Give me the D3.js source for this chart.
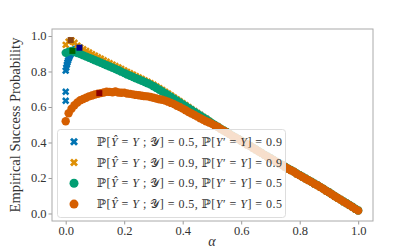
<!DOCTYPE html>
<html>
<head>
<meta charset="utf-8">
<script src="https://cdn.jsdelivr.net/npm/d3@7"></script>
<style>
  body { margin: 0; background: #fff; }
  svg text { font-family: "Liberation Serif", "DejaVu Serif", serif; }
</style>
</head>
<body>
<div id="chart"></div>
<script>
// siatka alpha (wspolna dla 3 serii)
const alpha = [0.00,0.01,0.02,0.03,0.04,0.05,0.06,0.07,0.08,0.09,
  0.10,0.11,0.12,0.13,0.14,0.15,0.16,0.17,0.18,0.19,
  0.20,0.21,0.22,0.23,0.24,0.25,0.26,0.27,0.28,0.29,
  0.30,0.31,0.32,0.33,0.34,0.35,0.36,0.37,0.38,0.39,
  0.40,0.41,0.42,0.43,0.44,0.45,0.46,0.47,0.48,0.49,
  0.50,0.51,0.52,0.53,0.54,0.55,0.56,0.57,0.58,0.59,
  0.60,0.61,0.62,0.63,0.64,0.65,0.66,0.67,0.68,0.69,
  0.70,0.71,0.72,0.73,0.74,0.75,0.76,0.77,0.78,0.79,
  0.80,0.81,0.82,0.83,0.84,0.85,0.86,0.87,0.88,0.89,
  0.90,0.91,0.92,0.93,0.94,0.95,0.96,0.97,0.98,0.99,1.00];

// P[Yhat=Y]=0.5, P[Y'=Y]=0.9 (niebieska, gesciej przy zerze)
const blueAlpha = [0,0,0,0.002,0.004,0.006,0.008,0.010,0.012,0.014,0.016,0.018,0.020,0.025,0.030,0.035,0.040,0.047,
  0.06,0.08,0.10,0.12,0.14,0.16,0.18,0.20,0.22,0.24,0.26,0.28,0.30,0.32,0.34,0.36,0.38,0.40,0.42,0.44,0.46,0.48,
  0.50,0.55,0.60,0.65,0.70,0.75,0.80,0.85,0.90,0.95,1.00];
const blueVal = [0.635,0.686,0.805,0.822,0.838,0.851,0.862,0.872,0.881,0.889,0.896,0.902,0.908,0.916,0.922,0.927,0.930,0.934,
  0.905,0.888,0.873,0.858,0.843,0.829,0.815,0.800,0.784,0.768,0.752,0.737,0.721,0.701,0.681,0.661,0.640,0.618,0.597,0.576,0.555,0.534,
  0.507,0.459,0.410,0.361,0.311,0.263,0.216,0.169,0.120,0.068,0.017];

// P[Yhat=Y]=0.9, P[Y'=Y]=0.9
const orangeVal = [0.950,0.968,0.975,0.962,0.946,0.934,0.925,0.916,0.907,0.898,
  0.889,0.880,0.872,0.863,0.855,0.847,0.839,0.831,0.823,0.815,
  0.806,0.798,0.790,0.782,0.774,0.766,0.758,0.750,0.742,0.734,
  0.725,0.716,0.706,0.696,0.686,0.676,0.665,0.654,0.643,0.632,
  0.621,0.610,0.599,0.588,0.577,0.566,0.555,0.544,0.533,0.522,
  0.508,0.497,0.490,0.478,0.470,0.457,0.450,0.439,0.426,0.421,
  0.407,0.400,0.386,0.382,0.371,0.358,0.351,0.338,0.331,0.318,
  0.312,0.299,0.293,0.279,0.275,0.260,0.255,0.242,0.237,0.222,
  0.217,0.204,0.199,0.185,0.180,0.166,0.161,0.147,0.141,0.126,
  0.121,0.106,0.099,0.085,0.079,0.065,0.059,0.045,0.039,0.024,0.018];

// P[Yhat=Y]=0.9, P[Y'=Y]=0.5
const greenVal = [0.905,0.912,0.916,0.910,0.904,0.898,0.891,0.884,0.877,0.870,
  0.863,0.856,0.849,0.842,0.835,0.828,0.821,0.814,0.807,0.799,
  0.791,0.783,0.776,0.769,0.762,0.755,0.748,0.741,0.734,0.726,
  0.717,0.707,0.697,0.687,0.677,0.667,0.657,0.646,0.636,0.625,
  0.614,0.604,0.593,0.583,0.572,0.562,0.551,0.541,0.530,0.520,
  0.509,0.499,0.489,0.478,0.468,0.459,0.448,0.438,0.429,0.420,
  0.410,0.399,0.390,0.381,0.370,0.361,0.350,0.341,0.330,0.321,
  0.311,0.302,0.292,0.282,0.274,0.263,0.253,0.245,0.236,0.225,
  0.216,0.207,0.197,0.188,0.179,0.169,0.160,0.150,0.140,0.129,
  0.120,0.109,0.098,0.088,0.078,0.068,0.058,0.048,0.038,0.027,0.017];

// P[Yhat=Y]=0.5, P[Y'=Y]=0.5
const vermVal = [0.520,0.565,0.590,0.610,0.625,0.638,0.645,0.652,0.660,0.665,
  0.670,0.675,0.678,0.682,0.686,0.685,0.683,0.687,0.682,0.680,
  0.681,0.676,0.674,0.671,0.668,0.666,0.663,0.661,0.660,0.656,
  0.652,0.648,0.644,0.641,0.636,0.630,0.623,0.616,0.607,0.600,
  0.591,0.582,0.572,0.563,0.555,0.546,0.537,0.528,0.520,0.513,
  0.505,0.496,0.487,0.476,0.467,0.458,0.447,0.437,0.428,0.419,
  0.409,0.398,0.389,0.380,0.369,0.360,0.349,0.340,0.329,0.320,
  0.310,0.301,0.291,0.281,0.273,0.262,0.252,0.244,0.235,0.224,
  0.215,0.206,0.196,0.187,0.178,0.168,0.159,0.149,0.139,0.128,
  0.119,0.108,0.097,0.087,0.077,0.067,0.057,0.047,0.037,0.026,0.016];

// legenda: P[Yhat=Y;Y] i P[Y'=Y]
const legendP1 = [0.5, 0.9, 0.9, 0.5];
const legendP2 = [0.9, 0.9, 0.5, 0.5];
const colors = ["#0173b2", "#de8f05", "#029e73", "#d55e00"];
const markers = ["x", "x", "o", "o"];

// kwadraty - maksima
const peakAlpha = [0.047, 0.017, 0.023, 0.115];
const peakVal = [0.934, 0.977, 0.916, 0.678];
const peakColors = ["#00008b", "#8b4513", "#006400", "#8b0000"];

const xTicks = [0.0, 0.2, 0.4, 0.6, 0.8, 1.0];
const yTicks = [0.0, 0.2, 0.4, 0.6, 0.8, 1.0];

const width = 415, height = 249;
const margin = {left: 52, right: 42, top: 29, bottom: 28};
const serif = "'Liberation Serif', 'DejaVu Serif', serif";

const svg = d3.select("#chart").append("svg")
  .attr("width", width)
  .attr("height", height)
  .attr("font-family", serif);

const x = d3.scaleLinear().domain([-0.0468, 1.0506]).range([margin.left, width - margin.right]);
const y = d3.scaleLinear().domain([-0.0423, 1.0394]).range([height - margin.bottom, margin.top]);

const series = [
  {a: blueAlpha, v: blueVal},
  {a: alpha, v: orangeVal},
  {a: alpha, v: greenVal},
  {a: alpha, v: vermVal}
];

const crossPath = d3.symbol(d3.symbolCross, 34)();

// punkty - kazda seria osobno, kolejnosc jak w legendzie
series.forEach((s, i) => {
  const pts = s.a.map((a, j) => [a, s.v[j]]);
  const g = svg.append("g").attr("fill", colors[i]);
  if (markers[i] === "o") {
    g.selectAll("circle").data(pts).join("circle")
      .attr("cx", d => x(d[0]))
      .attr("cy", d => y(d[1]))
      .attr("r", 4.2);
  } else {
    g.selectAll("path").data(pts).join("path")
      .attr("d", crossPath)
      .attr("transform", d => `translate(${x(d[0])},${y(d[1])}) rotate(45)`);
  }
});

// kwadraty maksimow
svg.append("g").selectAll("rect")
  .data(peakAlpha.map((a, i) => ({a, v: peakVal[i], c: peakColors[i]})))
  .join("rect")
  .attr("x", d => x(d.a) - 3)
  .attr("y", d => y(d.v) - 3)
  .attr("width", 6)
  .attr("height", 6)
  .attr("fill", d => d.c);

// osie
const xAxis = svg.append("g")
  .attr("transform", `translate(0,${height - margin.bottom})`)
  .call(d3.axisBottom(x).tickValues(xTicks).tickFormat(d3.format(".1f")).tickSize(3.5).tickPadding(2));
const yAxis = svg.append("g")
  .attr("transform", `translate(${margin.left},0)`)
  .call(d3.axisLeft(y).tickValues(yTicks).tickFormat(d3.format(".1f")).tickSize(3.5).tickPadding(2));
[xAxis, yAxis].forEach(ax => {
  ax.attr("font-family", null).attr("font-size", null);
  ax.select(".domain").remove();
  ax.selectAll("line").attr("stroke", "#999");
  ax.selectAll("text")
    .attr("fill", "#333")
    .style("font-family", serif)
    .style("font-size", "12.5px");
});

// ramka wykresu
svg.append("rect")
  .attr("x", margin.left)
  .attr("y", margin.top)
  .attr("width", width - margin.left - margin.right)
  .attr("height", height - margin.top - margin.bottom)
  .attr("fill", "none")
  .attr("stroke", "#aaa")
  .attr("stroke-width", 1);

// podpisy osi
svg.append("text")
  .attr("x", x(0.5))
  .attr("y", 246)
  .attr("text-anchor", "middle")
  .attr("font-size", 14)
  .attr("font-style", "italic")
  .attr("fill", "#333")
  .text("α");
svg.append("text")
  .attr("transform", "translate(20,125) rotate(-90)")
  .attr("text-anchor", "middle")
  .attr("font-size", 14.5)
  .attr("fill", "#333")
  .text("Empirical Success Probability");

// legenda
const leg = svg.append("g");
leg.append("rect")
  .attr("x", 57.5).attr("y", 129.5)
  .attr("width", 228).attr("height", 88)
  .attr("rx", 3)
  .attr("fill", "#fff").attr("fill-opacity", 0.8)
  .attr("stroke", "#ddd");

legendP1.forEach((p1, i) => {
  const yy = 141.7 + i * 20.8;
  if (markers[i] === "o") {
    leg.append("circle").attr("cx", 74).attr("cy", yy).attr("r", 4.5).attr("fill", colors[i]);
  } else {
    leg.append("path").attr("d", d3.symbol(d3.symbolCross, 40)())
      .attr("transform", `translate(74,${yy}) rotate(45)`).attr("fill", colors[i]);
  }
  const parts = [
    ["ℙ[", false], ["Ŷ", true], [" = ", false], ["Y", true], [" ; ", false], ["𝒴", false],
    [`] = ${p1}, ℙ[`, false], ["Y", true], ["′ = ", false], ["Y", true], [`] = ${legendP2[i]}`, false]
  ];
  const t = leg.append("text").attr("x", 97).attr("y", yy + 4)
    .attr("font-size", 12).attr("fill", "#333")
    .attr("textLength", 185).attr("lengthAdjust", "spacing");
  parts.forEach(([s, it]) => {
    t.append("tspan").text(s).attr("font-style", it ? "italic" : "normal");
  });
});
</script>
</body>
</html>
